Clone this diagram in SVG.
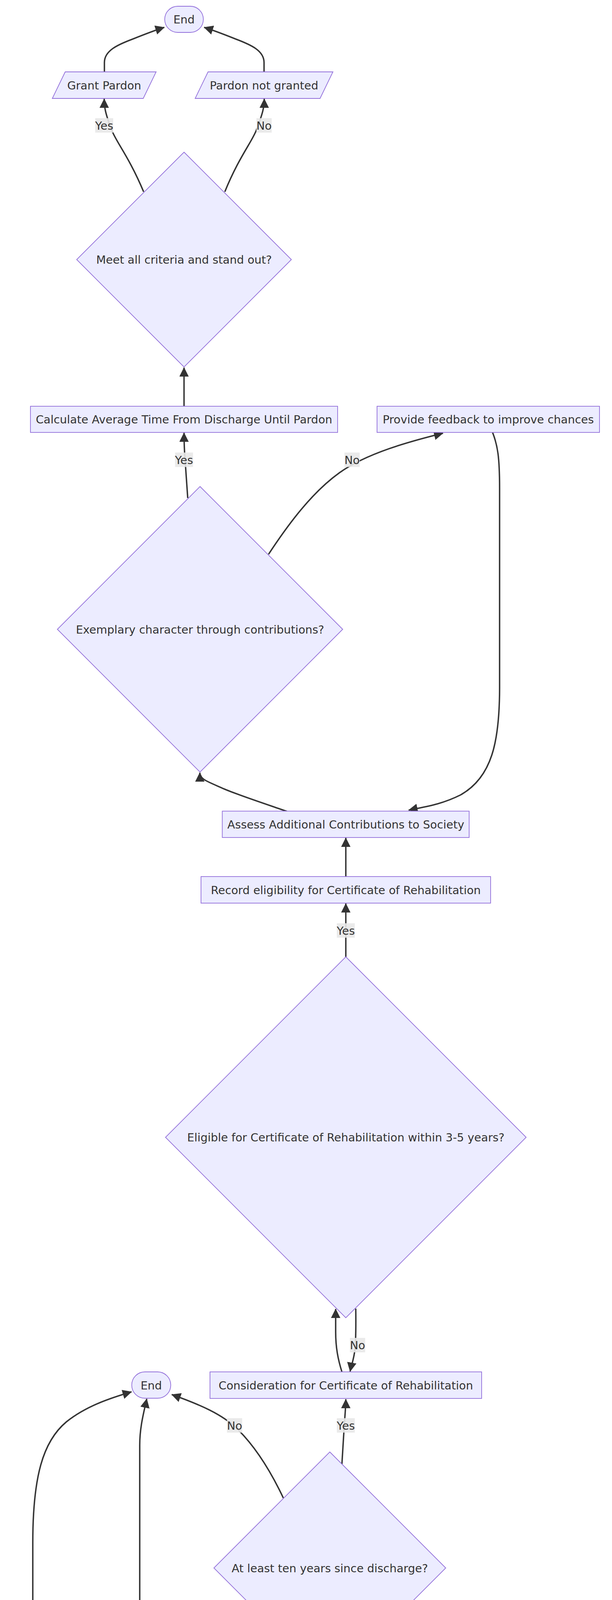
<svg xmlns="http://www.w3.org/2000/svg" width="1568" height="6972" viewBox="0 0 1568 6972">
<style>
.n{fill:#ECECFF;stroke:#9370DB;stroke-width:1.8}
.t{font-family:"DejaVu Sans","Noto Sans",sans-serif;font-size:28.8px;fill:#333;text-anchor:middle}
.e{fill:none;stroke:#333;stroke-width:3.6;marker-end:url(#arr)}
.lb{fill:#e8e8e8;opacity:0.9}
</style>
<defs>
<marker id="arr" viewBox="0 0 12 12" refX="11.5" refY="6" markerUnits="userSpaceOnUse" markerWidth="24" markerHeight="24" orient="auto">
<path d="M0,0 L12,6 L0,12 z" fill="#333"/>
</marker>
</defs>
<rect width="1568" height="6972" fill="#ffffff"/>
<g id="connectors">
<path class="e" d="M394,6816 L394,6716"/>
<path class="e" d="M394,6647 L394,6548"/>
<path class="e" d="M527,5923 C560,5850 600,5790 620,5740 C632,5710 636,5690 636,5655"/>
<path class="e" d="M636.5,5586 L636.5,5486"/>
<path class="e" d="M763,4780 C790,4700 830,4630 838,4590 C843,4565 845,4545 845,4518"/>
<path class="e" d="M845,4448 L845,4313"/>
<path class="e" d="M876,3748 L882,3650 C884,3620 886,3600 886,3582"/>
<path class="e" d="M726,3835 C700,3780 660,3710 610,3660 C570,3620 510,3595 440,3570"/>
<path class="e" d="M911.5,3350 C912,3390 912,3420 910,3450 C907,3480 900,3495 897,3511"/>
<path class="e" d="M876,3512 C866,3480 860,3450 860,3410 L860,3351"/>
<path class="e" d="M886,2450 L886,2313"/>
<path class="e" d="M886,2244 L886,2145"/>
<path class="e" d="M735,2077 C680,2058 610,2035 575,2020 C530,2000 512,1995 512,1978"/>
<path class="e" d="M481,1275 L473,1160 C472,1140 471.5,1125 471.5,1108"/>
<path class="e" d="M688,1419 C740,1340 800,1260 870,1210 C940,1160 1050,1130 1135,1109"/>
<path class="e" d="M1262,1107 C1275,1140 1280,1170 1280,1250 L1280,1760 C1280,1900 1260,1990 1180,2035 C1130,2060 1090,2065 1047,2074"/>
<path class="e" d="M471.5,1040 L471.5,941"/>
<path class="e" d="M368,491 C330,400 295,360 285,330 C270,290 267,275 267,253"/>
<path class="e" d="M576,491 C613,400 648,360 658,330 C673,290 677,275 677,253"/>
<path class="e" d="M267.5,184 L267.5,160 C267.5,130 300,115 340,100 C370,88 395,78 421,70"/>
<path class="e" d="M676.5,184 L676.5,160 C676.5,130 644,115 604,100 C574,88 548,78 523,70"/>
<path class="e" d="M485,4805 C450,4730 410,4660 375,4580 C362,4550 358,4520 358,4470 L358,3700 C358,3650 370,3610 376,3581"/>
<path class="e" d="M238,5945 C190,5860 120,5760 100,5700 C88,5665 84,5640 84,5600 L84,3950 C84,3780 110,3690 170,3640 C220,3600 280,3580 337,3563"/>
</g>
<g id="edge-labels">
<g><rect class="lb" x="613" y="5705.5" width="46" height="37"/><text class="t" x="636" y="5734.5">Yes</text></g>
<g><rect class="lb" x="825.5" y="4567.5" width="39" height="37"/><text class="t" x="845" y="4596.5">No</text></g>
<g><rect class="lb" x="863" y="3630.5" width="46" height="37"/><text class="t" x="886" y="3659.5">Yes</text></g>
<g><rect class="lb" x="581.5" y="3630.5" width="39" height="37"/><text class="t" x="601" y="3659.5">No</text></g>
<g><rect class="lb" x="896.5" y="3425" width="39" height="37"/><text class="t" x="916" y="3454">No</text></g>
<g><rect class="lb" x="863" y="2363.5" width="46" height="37"/><text class="t" x="886" y="2392.5">Yes</text></g>
<g><rect class="lb" x="448.5" y="1158.5" width="46" height="37"/><text class="t" x="471.5" y="1187.5">Yes</text></g>
<g><rect class="lb" x="882.5" y="1158.5" width="39" height="37"/><text class="t" x="902" y="1187.5">No</text></g>
<g><rect class="lb" x="244" y="302.5" width="46" height="37"/><text class="t" x="267" y="331.5">Yes</text></g>
<g><rect class="lb" x="657" y="302.5" width="39" height="37"/><text class="t" x="676.5" y="331.5">No</text></g>
<g><rect class="lb" x="335" y="4362.5" width="46" height="37"/><text class="t" x="358" y="4391.5">Yes</text></g>
<g><rect class="lb" x="64.5" y="4567.5" width="39" height="37"/><text class="t" x="84" y="4596.5">No</text></g>
</g>
<g id="start"><rect class="n" x="335" y="6816" width="118" height="67" rx="33.5"/><text class="t" x="394" y="6860">Start</text></g>
<g id="assessExemplary"><rect class="n" x="187" y="6647" width="414" height="68"/><text class="t" x="394" y="6691.5">Assess Exemplary Behavior</text></g>
<g id="exemplaryDecision"><polygon class="n" points="394,5790.5 772,6168.5 394,6546.5 16,6168.5"/><text class="t" x="394" y="6179">Individual demonstrated exemplary behavior?</text></g>
<g id="checkCrimes"><rect class="n" x="421" y="5586" width="431" height="67"/><text class="t" x="636.5" y="5630">Check for Additional Crimes</text></g>
<g id="crimesDecision"><polygon class="n" points="636.5,4653.5 1052,5069 636.5,5484.5 221,5069"/><text class="t" x="636.5" y="5079.5">Individual charged/convicted of additional crimes?</text></g>
<g id="determineTime"><rect class="n" x="597" y="4448" width="496" height="68"/><text class="t" x="845" y="4492.5">Determine Time Since Discharge</text></g>
<g id="tenYearsDecision"><polygon class="n" points="845,3717 1142,4014 845,4311 548,4014"/><text class="t" x="845" y="4024.5">At least ten years since discharge?</text></g>
<g id="end2"><rect class="n" x="337.5" y="3512" width="100" height="67.5" rx="33.75"/><text class="t" x="387.5" y="3556.5">End</text></g>
<g id="consideration"><rect class="n" x="538" y="3512" width="696" height="68"/><text class="t" x="886" y="3556.5">Consideration for Certificate of Rehabilitation</text></g>
<g id="eligibleDecision"><polygon class="n" points="886,2449.5 1348,2911.5 886,3373.5 424,2911.5"/><text class="t" x="886" y="2922">Eligible for Certificate of Rehabilitation within 3-5 years?</text></g>
<g id="recordEligibility"><rect class="n" x="515" y="2244" width="742" height="68"/><text class="t" x="886" y="2288.5">Record eligibility for Certificate of Rehabilitation</text></g>
<g id="assessContributions"><rect class="n" x="569.5" y="2076.5" width="632.5" height="67.5"/><text class="t" x="886" y="2120.5">Assess Additional Contributions to Society</text></g>
<g id="characterDecision"><polygon class="n" points="512.5,1245.5 878,1611 512.5,1976.5 147,1611"/><text class="t" x="512.5" y="1621.5">Exemplary character through contributions?</text></g>
<g id="calculateTime"><rect class="n" x="78" y="1040" width="787" height="67"/><text class="t" x="471.5" y="1084">Calculate Average Time From Discharge Until Pardon</text></g>
<g id="feedback"><rect class="n" x="966" y="1040" width="570" height="67"/><text class="t" x="1251" y="1084">Provide feedback to improve chances</text></g>
<g id="finalDecision"><polygon class="n" points="471.5,389.5 746.5,664.5 471.5,939.5 196.5,664.5"/><text class="t" x="471.5" y="675">Meet all criteria and stand out?</text></g>
<g id="grantPardon"><polygon class="n" points="167,184 400,184 367,252 134,252"/><text class="t" x="267" y="228.5">Grant Pardon</text></g>
<g id="pardonNotGranted"><polygon class="n" points="533,184 853,184 820,252 500,252"/><text class="t" x="676.5" y="228.5">Pardon not granted</text></g>
<g id="end1"><rect class="n" x="422" y="16" width="99" height="67" rx="33.5"/><text class="t" x="471.5" y="60">End</text></g>
</svg>
